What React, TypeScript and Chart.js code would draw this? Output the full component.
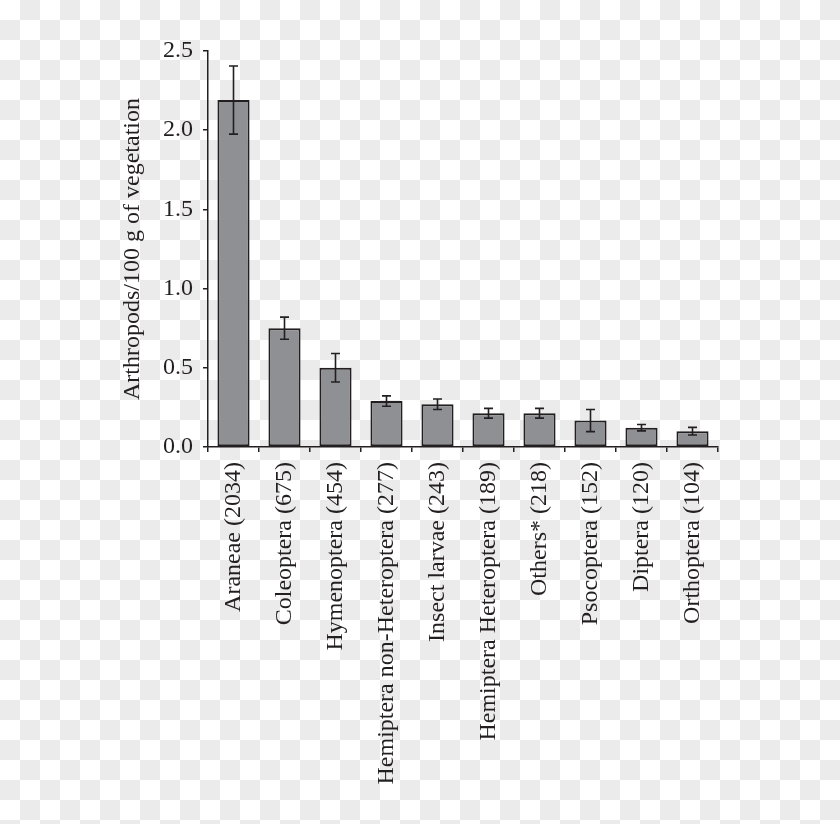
import { useEffect, useRef } from 'react'
import { Chart, registerables } from 'chart.js'
import type { Plugin } from 'chart.js'

Chart.register(...registerables)

const CATEGORIES = [
  'Araneae (2034)',
  'Coleoptera (675)',
  'Hymenoptera (454)',
  'Hemiptera non-Heteroptera (277)',
  'Insect larvae (243)',
  'Hemiptera Heteroptera (189)',
  'Others* (218)',
  'Psocoptera (152)',
  'Diptera (120)',
  'Orthoptera (104)',
]
const MEANS = [2.19, 0.75, 0.5, 0.29, 0.27, 0.213, 0.213, 0.167, 0.122, 0.1]
const ERRORS = [0.215, 0.07, 0.09, 0.033, 0.033, 0.031, 0.031, 0.07, 0.02, 0.024]
const Y_TICKS = [0, 0.5, 1.0, 1.5, 2.0, 2.5]

const INK = '#231f20'
const FONT = 'Liberation Serif'

// whiskers drawn on top of the bars, positioned through the y scale
const errorBars: Plugin<'bar'> = {
  id: 'errorBars',
  afterDatasetsDraw(chart) {
    const { ctx } = chart
    const y = chart.scales.y
    const meta = chart.getDatasetMeta(0)
    ctx.save()
    ctx.strokeStyle = INK
    ctx.lineWidth = 1.6
    meta.data.forEach((bar, i) => {
      const x = bar.x
      const top = y.getPixelForValue(MEANS[i] + ERRORS[i])
      const bot = y.getPixelForValue(MEANS[i] - ERRORS[i])
      const cap = 4.5
      ctx.beginPath()
      ctx.moveTo(x, top)
      ctx.lineTo(x, bot)
      ctx.moveTo(x - cap, top)
      ctx.lineTo(x + cap, top)
      ctx.moveTo(x - cap, bot)
      ctx.lineTo(x + cap, bot)
      ctx.stroke()
    })
    ctx.restore()
  },
}

export default function App() {
  const canvasRef = useRef<HTMLCanvasElement>(null)
  const chartRef = useRef<Chart | null>(null)

  useEffect(() => {
    if (!canvasRef.current) return
    if (chartRef.current) chartRef.current.destroy()

    chartRef.current = new Chart(canvasRef.current, {
      type: 'bar',
      data: {
        labels: CATEGORIES,
        datasets: [
          {
            data: MEANS,
            backgroundColor: '#8e9094',
            borderColor: INK,
            borderWidth: 2,
            borderSkipped: false,
            barPercentage: 0.63,
            categoryPercentage: 1,
          },
        ],
      },
      options: {
        animation: false,
        responsive: true,
        maintainAspectRatio: false,
        layout: { padding: { left: 110, top: 51, right: 122, bottom: 0 } },
        plugins: { legend: { display: false }, tooltip: { enabled: false } },
        scales: {
          x: {
            grid: { display: true, drawOnChartArea: false, drawTicks: true, tickLength: 5, color: INK, lineWidth: 1.5, offset: true },
            border: { display: true, color: INK, width: 1.5 },
            ticks: {
              color: INK,
              font: { family: FONT, size: 24 },
              minRotation: 90,
              maxRotation: 90,
              autoSkip: false,
              padding: 10,
            },
            afterFit: (s) => { s.height = 377 },
          },
          y: {
            min: 0,
            max: 2.5,
            afterBuildTicks: (s) => { s.ticks = Y_TICKS.map(v => ({ value: v })) },
            grid: { display: true, drawOnChartArea: false, drawTicks: true, tickLength: 5, color: INK, lineWidth: 1.5 },
            border: { display: true, color: INK, width: 1.5 },
            ticks: {
              color: INK,
              font: { family: FONT, size: 24 },
              padding: 10,
              callback: (v) => Number(v).toFixed(1),
            },
            title: {
              display: true,
              text: 'Arthropods/100 g of vegetation',
              color: INK,
              font: { family: FONT, size: 24 },
              padding: { top: 8, bottom: 0 },
            },
            afterFit: (s) => { s.width = 98 },
          },
        },
      },
      plugins: [errorBars],
    })

    return () => { chartRef.current?.destroy() }
  }, [])

  return (
    <div
      style={{
        position: 'fixed',
        left: 0,
        top: 0,
        width: 840,
        height: 824,
        backgroundColor: '#ffffff',
        backgroundImage: 'repeating-conic-gradient(#ebebeb 0 25%, #ffffff 0 50%)',
        backgroundSize: '40px 40px',
      }}
    >
      <canvas ref={canvasRef} />
    </div>
  )
}
